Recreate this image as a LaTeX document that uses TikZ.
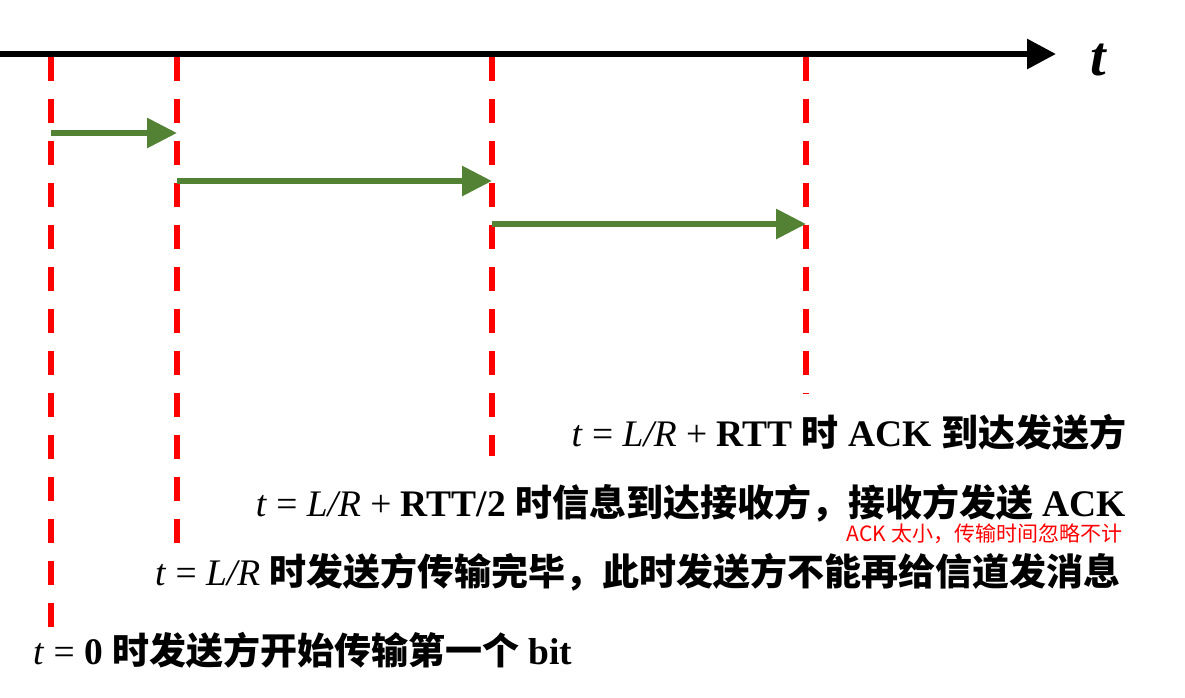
\documentclass[tikz,border=0pt]{standalone}
\usepackage{fontspec}
\setmainfont{Liberation Serif}
\newfontfamily\cjkfont{Noto Sans CJK SC}
\usetikzlibrary{arrows.meta}
\definecolor{sendgreen}{RGB}{84,130,53}
\newcommand\zh[1]{{\cjkfont\bfseries\fontsize{37}{40}\selectfont #1}}
\begin{document}
\begin{tikzpicture}[x=1pt,y=-1pt,line width=6pt,
				timeline/.style={draw=red,dash pattern=on 24pt off 18pt},
				packet/.style={draw=sendgreen,-{Triangle[length=30pt,width=29pt]}},
				note/.style={font=\fontsize{37.5}{42}\selectfont,inner sep=0pt}]
				\useasboundingbox (0,0) rectangle (1185,697);
				\def\ytop{57}
				\path (0,54) coordinate (O)
				(1056,54) coordinate (T)
				(51,133) coordinate (S0)
				(177,133) coordinate (R0)
				(177,181) coordinate (S1)
				(492,181) coordinate (R1)
				(492,224) coordinate (S2)
				(806,224) coordinate (R2);
				\draw[-{Triangle[length=29pt,width=29pt]}] (O)--(T);
				\node[font=\fontsize{56}{60}\selectfont\bfseries\itshape,anchor=base,inner sep=0pt] (tlabel) at (1098,75) {t};
				\foreach \x/\yend in {51/627,177/543,492/456,806/394}
				\draw[timeline] (\x,\ytop)--(\x,\yend);
				\draw[packet] (S0)--(R0);
				\draw[packet] (S1)--(R1);
				\draw[packet] (S2)--(R2);
				\node[note,anchor=base east] (ackback) at (1129,446)
				{\textit{t} = \textit{L/R} + \textbf{RTT} \zh{时} \textbf{ACK} \zh{到达发送方}};
				\node[note,anchor=base east] (arrive) at (1129,516)
				{\textit{t} = \textit{L/R} + \textbf{RTT/2} \zh{时信息到达接收方，接收方发送} \textbf{ACK}};
				\node[font=\cjkfont\fontsize{21}{24}\selectfont,text=red,anchor=base east,inner sep=0pt] (tiny) at (1125,541)
				{ACK 太小，传输时间忽略不计};
				\node[note,anchor=base west] (done) at (152,585)
				{\textit{t} = \textit{L/R} \zh{时发送方传输完毕，此时发送方不能再给信道发消息}};
				\node[note,anchor=base west] (start) at (30,664)
				{\textit{t} = \textbf{0} \zh{时发送方开始传输第一个} \textbf{bit}};
			\end{tikzpicture}
\end{document}
